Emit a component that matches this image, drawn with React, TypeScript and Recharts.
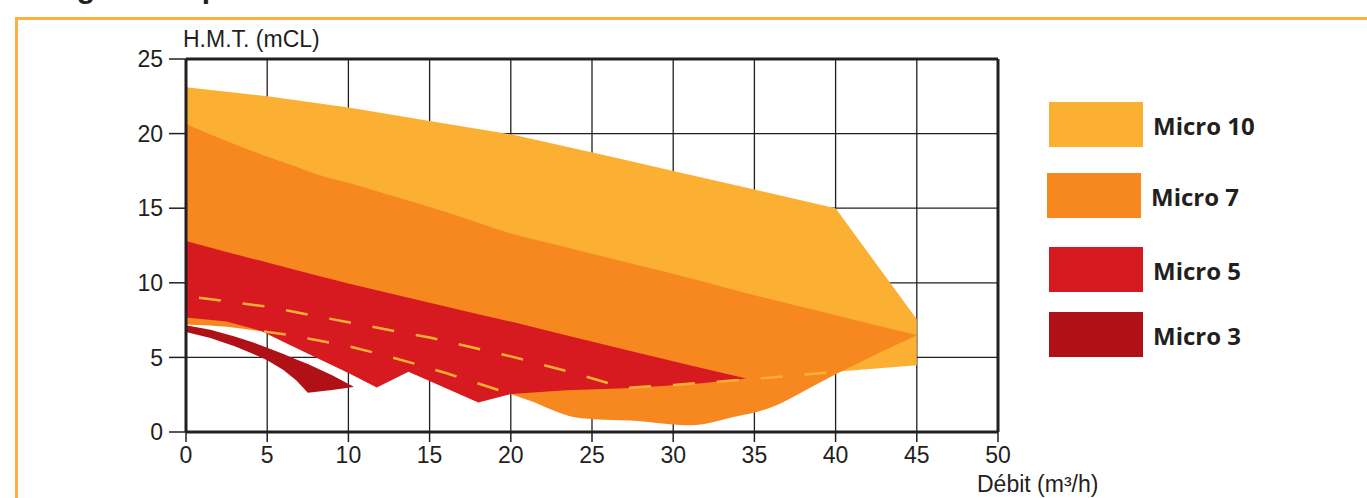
import React from 'react';
import {
  ComposedChart,
  Area,
  Line,
  XAxis,
  YAxis,
  CartesianGrid,
  ReferenceLine,
  Legend,
  Label,
} from 'recharts';

// ---- axis ticks ----
const xTicks = [0, 5, 10, 15, 20, 25, 30, 35, 40, 45, 50];
const yTicks = [0, 5, 10, 15, 20, 25];

// ---- series names / colours ----
const seriesNames = ['Micro 10', 'Micro 7', 'Micro 5', 'Micro 3'];
const seriesColors = ['#FBB034', '#F6881F', '#D71920', '#B01116'];

// ---- Micro 10 (range: low / high H.M.T. per débit) ----
const micro10X = [0, 5, 10, 15, 20, 24, 27, 30, 35, 40, 45];
const micro10Low = [9.1, 8.4, 7.35, 6.33, 5.07, 3.92, 2.95, 3.15, 3.56, 4.03, 4.47];
const micro10High = [23.1, 22.5, 21.75, 20.85, 19.95, 18.99, 18.25, 17.5, 16.25, 15.0, 7.55];

// ---- Micro 7 ----
const micro7X = [0, 2.5, 4.8, 6.4, 8, 10, 12, 14, 16, 18, 20, 21.4, 22.6, 24, 25.5, 28, 30, 30.8, 32, 33.7, 35, 36.2, 38.2, 40, 45];
const micro7Low = [7.2, 7.05, 6.73, 6.49, 6.17, 5.75, 5.2, 4.6, 3.95, 3.25, 2.55, 2.01, 1.46, 0.97, 0.83, 0.72, 0.5, 0.45, 0.56, 1.0, 1.3, 1.72, 2.84, 3.87, 6.49];
const micro7High = [20.65, 19.5, 18.53, 17.93, 17.3, 16.7, 16.06, 15.42, 14.74, 14.02, 13.3, 12.92, 12.6, 12.22, 11.82, 11.14, 10.6, 10.37, 10.03, 9.54, 9.17, 8.85, 8.31, 7.83, 6.5];

// ---- Micro 5 ----
const micro5X = [0, 2.5, 4.6, 6.3, 8, 10, 11.75, 13.7, 18, 20, 23.4, 27.5, 31.6, 34.5];
const micro5Low = [7.68, 7.4, 6.78, 5.88, 5.0, 3.95, 2.98, 4.03, 1.98, 2.55, 2.8, 2.95, 3.25, 3.58];
const micro5High = [12.8, 12.07, 11.47, 10.99, 10.51, 9.95, 9.5, 8.99, 7.9, 7.4, 6.48, 5.4, 4.33, 3.58];

// ---- Micro 3 ----
const micro3X = [0, 1.5, 3, 4, 5, 6, 6.8, 7.5, 9, 10.3];
const micro3Low = [6.71, 6.3, 5.75, 5.3, 4.81, 4.15, 3.45, 2.63, 2.82, 3.02];
const micro3High = [7.16, 6.85, 6.4, 6.05, 5.65, 5.22, 4.86, 4.55, 3.8, 3.05];

// ---- dashed limit curves ----
const dash1X = [0.8, 5, 10, 15, 20, 24, 27, 30, 35, 40.5];
const dash1Y = [9.0, 8.4, 7.35, 6.33, 5.07, 3.92, 2.95, 3.15, 3.56, 4.07];
const dash2X = [4.8, 6.4, 8, 10, 12, 14, 16, 18, 20];
const dash2Y = [6.73, 6.49, 6.17, 5.75, 5.2, 4.6, 3.95, 3.25, 2.55];

const toRange = (xs: number[], lows: number[], highs: number[]) =>
  xs.map((x, i) => ({ x, range: [lows[i], highs[i]] }));
const toLine = (xs: number[], ys: number[]) => xs.map((x, i) => ({ x, y: ys[i] }));

const areaData = [
  toRange(micro10X, micro10Low, micro10High),
  toRange(micro7X, micro7Low, micro7High),
  toRange(micro5X, micro5Low, micro5High),
  toRange(micro3X, micro3Low, micro3High),
];
const areaCurve: any[] = ['linear', 'monotone', 'linear', 'linear'];
const dash1Data = toLine(dash1X, dash1Y);
const dash2Data = toLine(dash2X, dash2Y);

const INK = '#231F20';
const AXIS_FONT = '"Liberation Sans", Arial, sans-serif';
const LEGEND_FONT = '"Open Sans", "Noto Sans", sans-serif';

const legendTops = [2, 73, 147, 212];
const legendLefts = [2, 0, 2, 2];

function LegendContent(props: any) {
  const payload = (props.payload || [])
    .filter((p: any) => seriesNames.includes(p.value))
    .slice()
    .sort((a: any, b: any) => seriesNames.indexOf(a.value) - seriesNames.indexOf(b.value));
  return (
    <div style={{ position: 'relative', width: 230, height: 260 }}>
      {payload.map((p: any, i: number) => {
        const idx = seriesNames.indexOf(p.value);
        return (
          <div
            key={p.value}
            style={{
              position: 'absolute',
              left: legendLefts[i],
              top: legendTops[i],
              display: 'flex',
              alignItems: 'center',
              height: 45,
            }}
          >
            <div style={{ width: 94, height: 45, background: seriesColors[idx] }} />
            <span
              style={{
                marginLeft: 10,
                marginTop: 2,
                fontFamily: LEGEND_FONT,
                fontWeight: 700,
                fontSize: 24,
                color: INK,
                whiteSpace: 'nowrap',
              }}
            >
              {p.value}
            </span>
          </div>
        );
      })}
    </div>
  );
}

export default function App() {
  return (
    <div
      style={{
        position: 'absolute',
        left: 0,
        top: 0,
        width: 1367,
        height: 498,
        overflow: 'hidden',
        background: '#fff',
      }}
    >
      <svg style={{ position: 'absolute', left: 0, top: 0 }} width={1367} height={30}>
        <text x={30} y={-2} fontFamily={AXIS_FONT} fontWeight={700} fontSize={30} fill={INK}>
          Diagramme performances
        </text>
      </svg>
      <div
        style={{
          position: 'absolute',
          left: 15,
          top: 17,
          width: 1400,
          height: 600,
          border: '3px solid #FBB040',
          boxSizing: 'border-box',
        }}
      />
      <div style={{ position: 'absolute', left: 0, top: 0 }}>
        <ComposedChart
          width={1367}
          height={498}
          margin={{ top: 59, right: 369, bottom: 36, left: 126 }}
        >
          <CartesianGrid stroke={INK} strokeWidth={1.3} />
          {areaData.map((d, i) => (
            <Area
              key={seriesNames[i]}
              name={seriesNames[i]}
              data={d}
              dataKey="range"
              type={areaCurve[i]}
              stroke="none"
              fill={seriesColors[i]}
              fillOpacity={1}
              isAnimationActive={false}
              activeDot={false}
              dot={false}
            />
          ))}
          <Line
            data={dash1Data}
            dataKey="y"
            type="linear"
            stroke="#FBB034"
            strokeWidth={2.5}
            strokeDasharray="22 22"
            dot={false}
            activeDot={false}
            legendType="none"
            isAnimationActive={false}
          />
          <Line
            data={dash2Data}
            dataKey="y"
            type="linear"
            stroke="#FBB034"
            strokeWidth={2.5}
            strokeDasharray="22 22"
            dot={false}
            activeDot={false}
            legendType="none"
            isAnimationActive={false}
          />
          <ReferenceLine y={25} stroke={INK} strokeWidth={3} />
          <ReferenceLine x={50} stroke={INK} strokeWidth={3} />
          <XAxis
            type="number"
            dataKey="x"
            domain={[0, 50]}
            ticks={xTicks}
            interval={0}
            height={30}
            tickSize={10}
            tickMargin={5}
            axisLine={{ stroke: INK, strokeWidth: 3 }}
            tickLine={{ stroke: INK, strokeWidth: 1.5 }}
            tick={{ fill: INK, fontSize: 23, fontFamily: AXIS_FONT }}
            allowDataOverflow
          >
            <Label
              content={(p: any) => {
                const vb = p.viewBox || { x: 186, y: 432, width: 812 };
                return (
                  <text
                    x={vb.x + vb.width - 21}
                    y={vb.y + 60}
                    fill={INK}
                    fontSize={23}
                    fontFamily={AXIS_FONT}
                    textAnchor="start"
                  >
                    Débit (m³/h)
                  </text>
                );
              }}
            />
          </XAxis>
          <YAxis
            type="number"
            domain={[0, 25]}
            ticks={yTicks}
            interval={0}
            width={60}
            tickSize={17}
            tickMargin={6}
            axisLine={{ stroke: INK, strokeWidth: 3 }}
            tickLine={{ stroke: INK, strokeWidth: 1.5 }}
            tick={{ fill: INK, fontSize: 23, fontFamily: AXIS_FONT }}
            allowDataOverflow
          >
            <Label
              content={(p: any) => {
                const vb = p.viewBox || { x: 126, y: 59, width: 60 };
                return (
                  <text
                    x={vb.x + vb.width - 3}
                    y={vb.y - 12}
                    fill={INK}
                    fontSize={23}
                    fontFamily={AXIS_FONT}
                    textAnchor="start"
                  >
                    H.M.T. (mCL)
                  </text>
                );
              }}
            />
          </YAxis>
          <Legend
            layout="vertical"
            align="center"
            verticalAlign="middle"
            itemSorter={null as any}
            wrapperStyle={{ left: 1047, top: 100, width: 230, height: 260 }}
            content={<LegendContent />}
          />
        </ComposedChart>
      </div>
    </div>
  );
}
